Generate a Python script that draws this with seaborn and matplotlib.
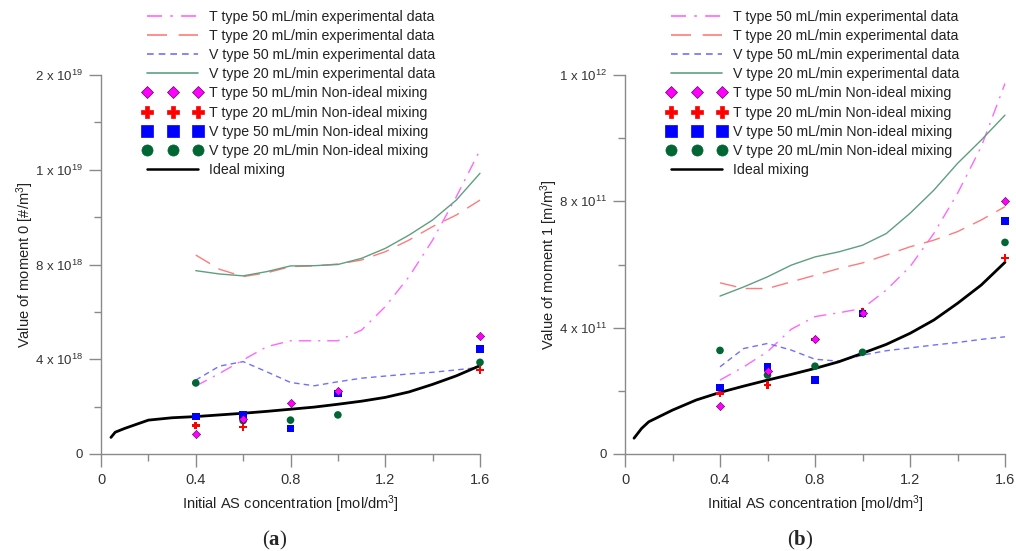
import numpy as np
import pandas as pd
import matplotlib
matplotlib.use("Agg")
import matplotlib.pyplot as plt
from matplotlib.lines import Line2D
import seaborn as sns

# ---------------- data ----------------
x_curve = [0.4, 0.5, 0.6, 0.7, 0.8, 0.9, 1.0, 1.1, 1.2, 1.3, 1.4, 1.5, 1.6]
x_pts = [0.4, 0.6, 0.8, 1.0, 1.6]

# panel (a): moment 0, units of 1e18 #/m3
a_T50_exp = [2.87, 3.40, 3.97, 4.53, 4.78, 4.78, 4.78, 5.23, 6.22, 7.48, 9.03, 10.86, 12.83]
a_T20_exp = [8.40, 7.80, 7.49, 7.65, 7.91, 7.94, 8.02, 8.19, 8.54, 9.03, 9.60, 10.09, 10.72]
a_V50_exp = [3.12, 3.71, 3.90, 3.47, 3.02, 2.88, 3.05, 3.20, 3.29, 3.38, 3.45, 3.55, 3.66]
a_V20_exp = [7.74, 7.60, 7.52, 7.70, 7.94, 7.95, 8.00, 8.26, 8.68, 9.24, 9.88, 10.72, 11.85]
x_ideal = [0.042, 0.06, 0.1, 0.2, 0.3, 0.4, 0.5, 0.6, 0.7, 0.8, 0.9, 1.0, 1.1, 1.2, 1.3, 1.4, 1.5, 1.6]
a_ideal = [0.70, 0.92, 1.08, 1.43, 1.53, 1.58, 1.65, 1.72, 1.80, 1.89, 1.98, 2.10, 2.23, 2.39, 2.62, 2.94, 3.30, 3.73]
a_T50_pts = [0.83, 1.48, 2.14, 2.66, 4.98]
a_T20_x = [0.4, 0.6, 1.6]
a_T20_pts = [1.20, 1.14, 3.55]
a_V50_pts = [1.58, 1.65, 1.07, 2.56, 4.43]
a_V20_pts = [3.00, 1.41, 1.43, 1.65, 3.87]

# panel (b): moment 1, units of 1e11 m/m3
b_T50_exp = [2.34, 2.76, 3.24, 3.95, 4.35, 4.47, 4.61, 5.19, 5.93, 6.98, 8.25, 9.73, 11.73]
b_T20_exp = [5.42, 5.24, 5.24, 5.45, 5.66, 5.87, 6.05, 6.30, 6.56, 6.77, 7.04, 7.41, 7.83]
b_V50_exp = [2.76, 3.34, 3.50, 3.29, 3.00, 2.94, 3.13, 3.27, 3.36, 3.45, 3.53, 3.63, 3.71]
b_V20_exp = [5.00, 5.29, 5.61, 5.98, 6.24, 6.40, 6.61, 6.98, 7.62, 8.35, 9.20, 9.94, 10.73]
x_ideal_b = [0.038, 0.07, 0.1, 0.2, 0.3, 0.4, 0.5, 0.6, 0.7, 0.8, 0.9, 1.0, 1.1, 1.2, 1.3, 1.4, 1.5, 1.6]
b_ideal = [0.50, 0.81, 1.02, 1.39, 1.71, 1.95, 2.15, 2.34, 2.52, 2.71, 2.92, 3.19, 3.47, 3.82, 4.24, 4.77, 5.35, 6.07]
b_T50_pts = [1.53, 2.63, 3.64, 4.47, 8.02]
b_T20_pts = [1.92, 2.18, 3.62, 4.50, 6.21]
b_V50_pts = [2.11, 2.76, 2.34, 4.45, 7.38]
b_V20_pts = [3.28, 2.50, 2.78, 3.22, 6.70]

xticks = [0, 0.4, 0.8, 1.2, 1.6]
xtick_labels = ["0", "0.4", "0.8", "1.2", "1.6"]
a_yticks = [0, 4, 8, 12, 16]
a_ytick_labels = ["0", "4 x 10$^{18}$", "8 x 10$^{18}$", "1 x 10$^{19}$", "2 x 10$^{19}$"]
b_yticks = [0, 4, 8, 12]
b_ytick_labels = ["0", "4 x 10$^{11}$", "8 x 10$^{11}$", "1 x 10$^{12}$"]

labels = ["T type 50 mL/min experimental data",
          "T type 20 mL/min experimental data",
          "V type 50 mL/min experimental data",
          "V type 20 mL/min experimental data",
          "T type 50 mL/min Non-ideal mixing",
          "T type 20 mL/min Non-ideal mixing",
          "V type 50 mL/min Non-ideal mixing",
          "V type 20 mL/min Non-ideal mixing",
          "Ideal mixing"]

# ---------------- style ----------------
sns.set_theme(style="white")
plt.rcParams['font.family'] = ['Liberation Sans', 'DejaVu Sans']
plt.rcParams['mathtext.fontset'] = 'custom'
plt.rcParams['mathtext.rm'] = 'Liberation Sans'
plt.rcParams['mathtext.it'] = 'Liberation Sans:italic'
plt.rcParams['mathtext.bf'] = 'Liberation Serif:bold'

C_MAG_L = "#ff66ff"
C_RED_L = "#ff7b7b"
C_BLU_L = "#6f6fff"
C_GRN_L = "#5f9f7f"
C_MAG = "#ff00ff"
C_RED = "#ff0000"
C_BLU = "#0000ff"
C_GRN = "#006633"
AX_GRAY = "#8a8a8a"
TXT = "#333333"
FS = 10.0

W, H = 1016, 551
fig = plt.figure(figsize=(W / 100, H / 100), dpi=100)

def px_axes(x0, x1, ytop, ybot):
    return fig.add_axes([x0 / W, 1 - ybot / H, (x1 - x0) / W, (ybot - ytop) / H])

ax_a = px_axes(101, 480, 75, 454)
ax_b = px_axes(625, 1005, 75, 454)

dash_styles = [(0, (9, 5, 1.5, 5)), (0, (12, 7)), (0, (4, 3)), "-"]
line_cols = [C_MAG_L, C_RED_L, C_BLU_L, C_GRN_L]


def draw(ax, exp_series, ideal_x, ideal_y, pts, ymax, yticks, yticklabels, ylabel):
    for ys, col, ls in zip(exp_series, line_cols, dash_styles):
        sns.lineplot(x=x_curve, y=ys, ax=ax, color=col, linewidth=1.0,
                     linestyle=ls, clip_on=False, sort=True)
    sns.lineplot(x=ideal_x, y=ideal_y, ax=ax, color="black", linewidth=2.0,
                 clip_on=False)
    markers = ["D", "P", "s", "o"]
    cols = [C_MAG, C_RED, C_BLU, C_GRN]
    sizes = [18, 30, 30, 30]
    order = [1, 2, 3, 0]
    for i in order:
        xs, ys = pts[i]
        sns.scatterplot(x=xs, y=ys, ax=ax, marker=markers[i], color=cols[i],
                        s=sizes[i], edgecolor=("#550055" if i == 0 else "none"),
                        linewidth=0.4, clip_on=False, zorder=5)
    ax.set_xlim(0, 1.6)
    ax.set_ylim(0, ymax)
    ax.set_xticks(xticks)
    ax.set_xticklabels(xtick_labels)
    ax.set_xticks([0.2, 0.6, 1.0, 1.4], minor=True)
    ax.set_yticks(yticks)
    ax.set_yticklabels(yticklabels)
    ax.set_yticks([v + 2 for v in yticks[:-1]], minor=True)
    for s in ["top", "right"]:
        ax.spines[s].set_visible(False)
    for s in ["left", "bottom"]:
        ax.spines[s].set_color(AX_GRAY)
        ax.spines[s].set_linewidth(1.0)
    ax.tick_params(axis="both", which="major", length=9, width=1.0, color=AX_GRAY,
                   labelsize=FS + 0.5, labelcolor=TXT, pad=5, direction="out",
                   bottom=True, left=True)
    ax.tick_params(axis="both", which="minor", length=5, width=1.0, color=AX_GRAY,
                   direction="out", bottom=True, left=True)
    ax.tick_params(axis="y", which="major", labelsize=FS - 0.5, pad=4)
    ax.set_xlabel("Initial AS concentration [mol/dm$^3$]", fontsize=FS + 0.5,
                  color="#222222", labelpad=4)
    ax.set_ylabel(ylabel, fontsize=FS + 0.5, color="#222222", labelpad=-1)
    ax.patch.set_alpha(0)


draw(ax_a, [a_T50_exp, a_T20_exp, a_V50_exp, a_V20_exp], x_ideal, a_ideal,
     [(x_pts, a_T50_pts), (a_T20_x, a_T20_pts), (x_pts, a_V50_pts), (x_pts, a_V20_pts)],
     16, a_yticks, a_ytick_labels, "Value of moment 0 [#/m$^3$]")
draw(ax_b, [b_T50_exp, b_T20_exp, b_V50_exp, b_V20_exp], x_ideal_b, b_ideal,
     [(x_pts, b_T50_pts), (x_pts, b_T20_pts), (x_pts, b_V50_pts), (x_pts, b_V20_pts)],
     12, b_yticks, b_ytick_labels, "Value of moment 1 [m/m$^3$]")


def legend_handles():
    hs = []
    for col, ls in zip(line_cols, dash_styles):
        hs.append(Line2D([], [], color=col, linestyle=ls, linewidth=1.2))
    for m, c, ms in zip(["D", "P", "s", "o"], [C_MAG, C_RED, C_BLU, C_GRN], [6.5, 8.5, 8, 8]):
        hs.append(Line2D([], [], color=c, marker=m, linestyle="none", markersize=ms,
                         markeredgecolor=("#660066" if m == "D" else c), markeredgewidth=0.5))
    hs.append(Line2D([], [], color="black", linewidth=1.8))
    return hs


for x0 in (143, 667):
    fig.legend(legend_handles(), labels, loc="upper left",
               bbox_to_anchor=(x0 / W, 1 - 10 / H), frameon=False,
               fontsize=FS + 0.2, handlelength=4.2, handletextpad=0.45,
               labelspacing=0.36, numpoints=3, borderpad=0, borderaxespad=0,
               labelcolor="#222222")

fig.text(275 / W, 1 - 540 / H, r"($\mathbf{a}$)", ha="center", va="center",
         fontsize=15, family="Liberation Serif")
fig.text(800 / W, 1 - 540 / H, r"($\mathbf{b}$)", ha="center", va="center",
         fontsize=15, family="Liberation Serif")

fig.savefig("out.png", dpi=100)
